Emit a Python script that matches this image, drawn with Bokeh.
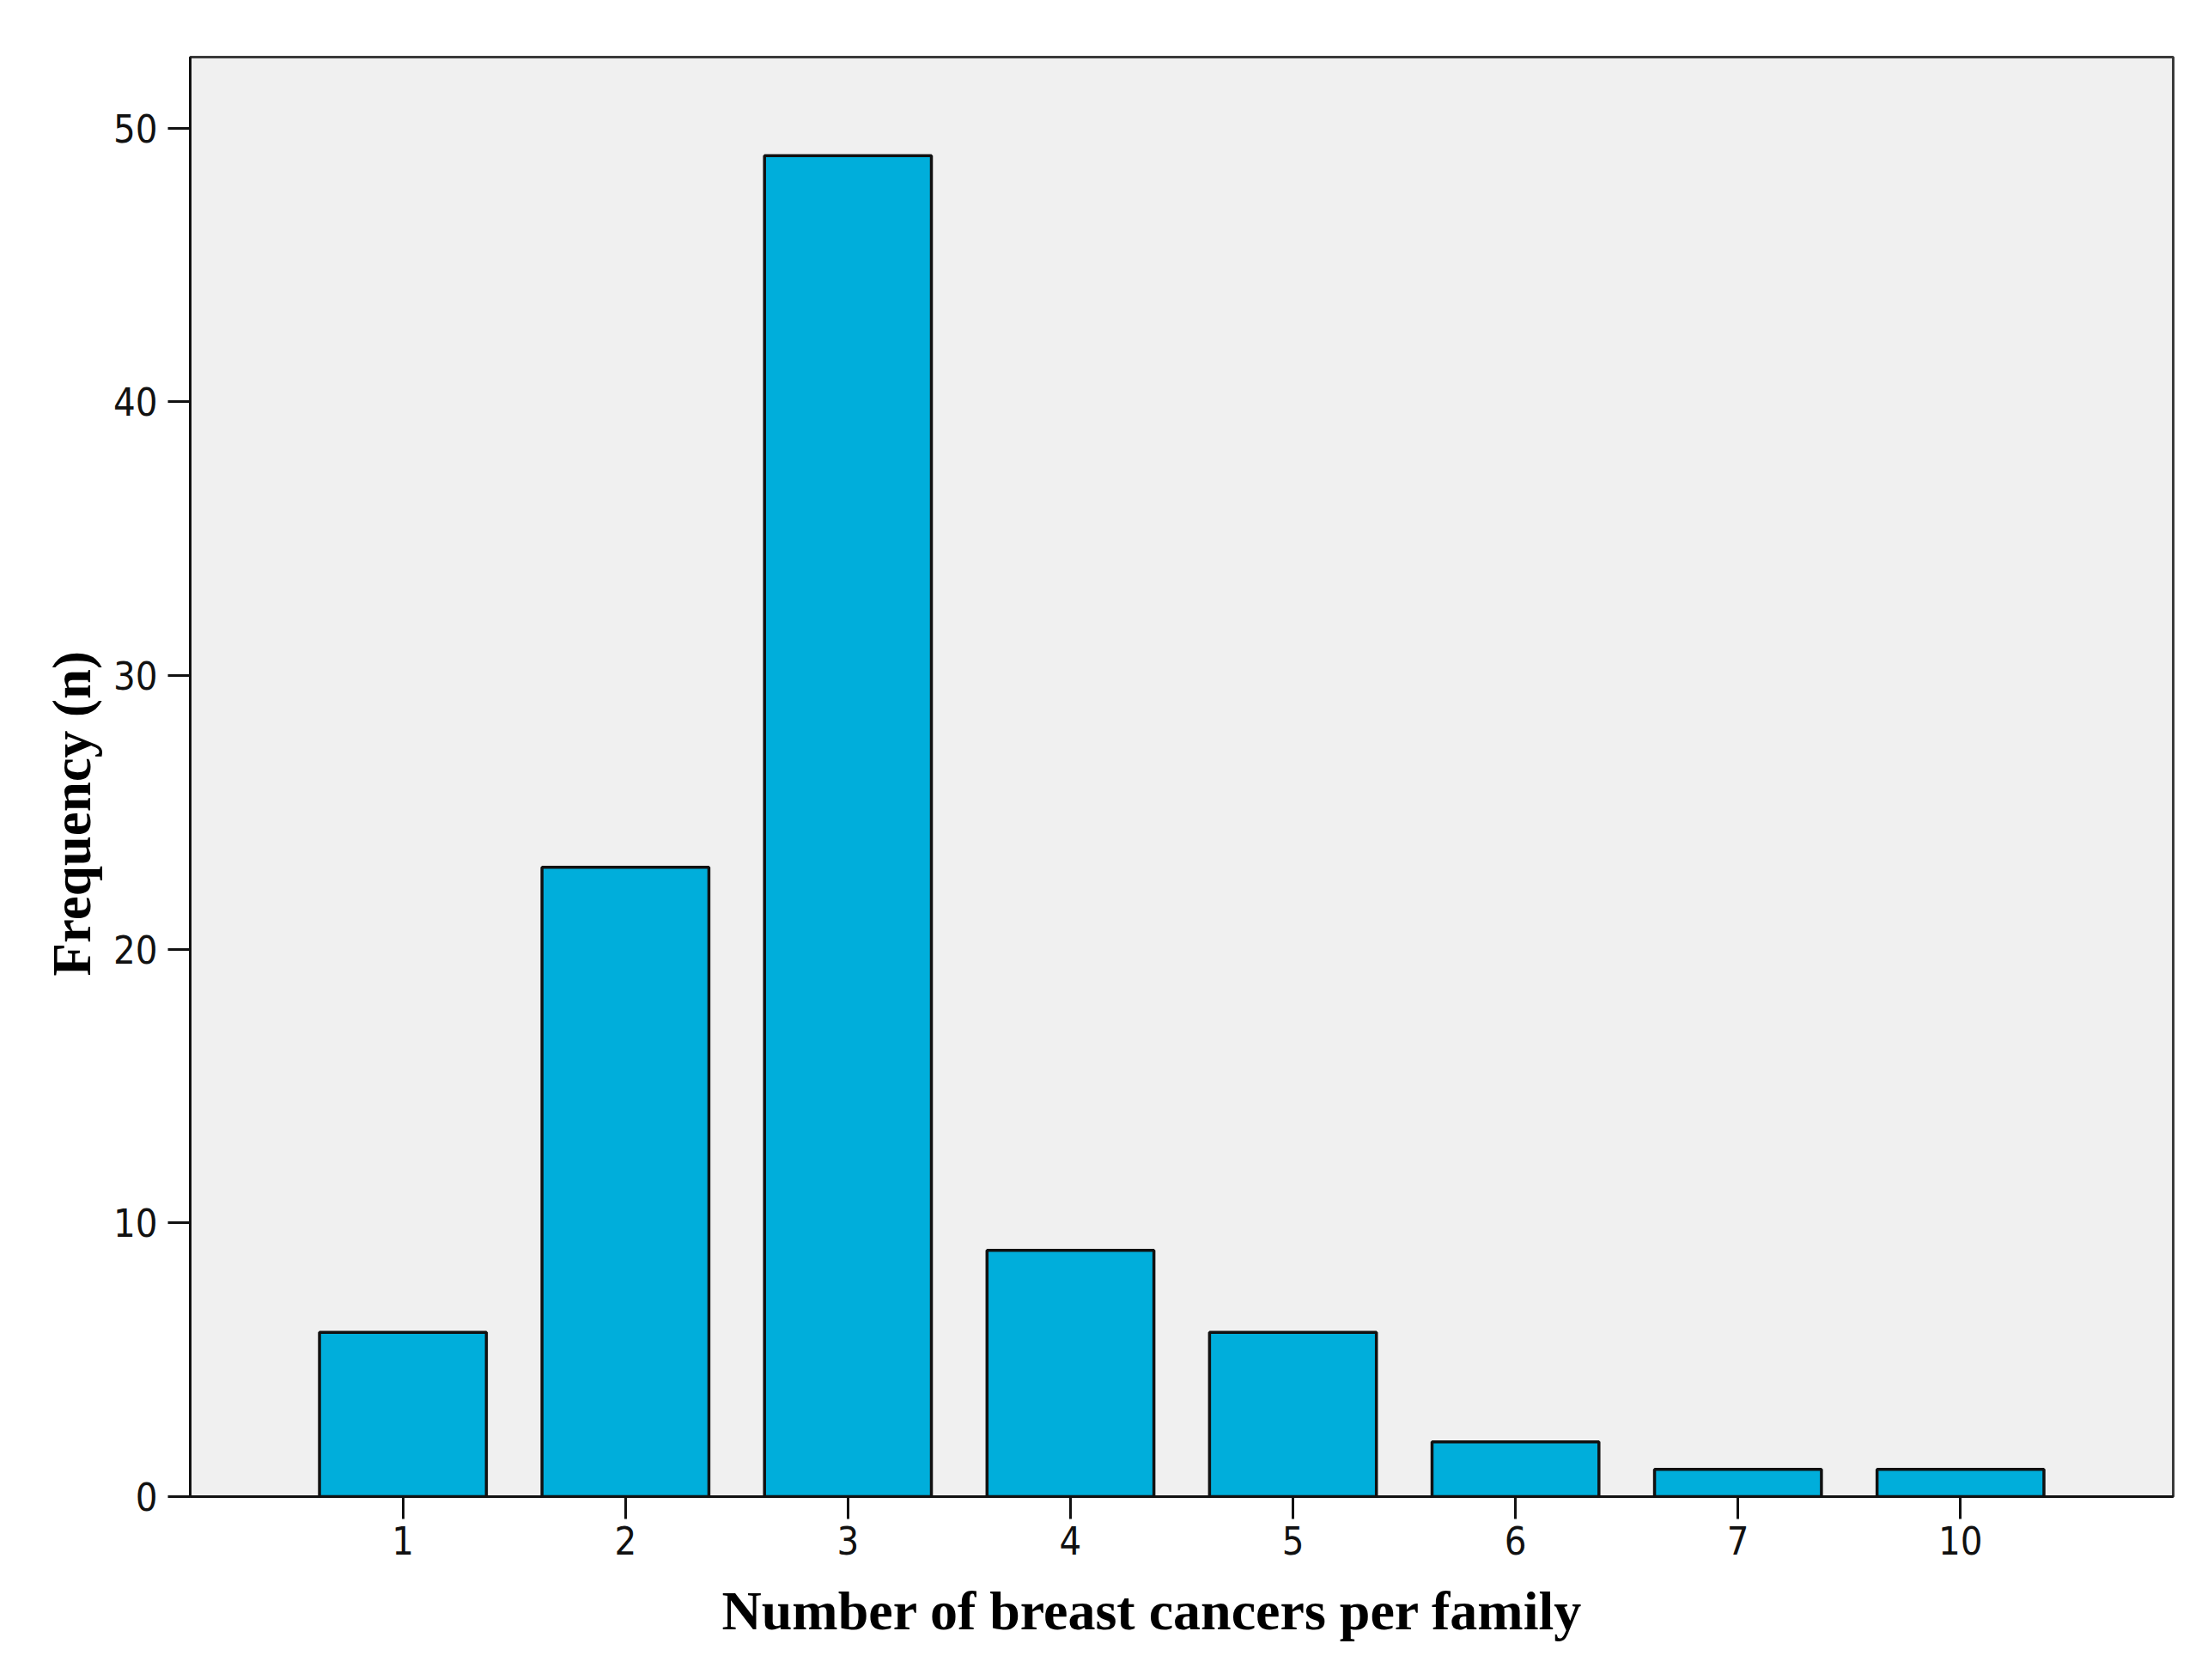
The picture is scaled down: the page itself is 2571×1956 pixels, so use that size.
from bokeh.plotting import figure
from bokeh.models import FactorRange, Range1d, FixedTicker, Title
from bokeh.embed import file_html
from bokeh.resources import INLINE

categories = ["1", "2", "3", "4", "5", "6", "7", "10"]
frequency = [6, 23, 49, 9, 6, 2, 1, 1]
y_ticks = [0, 10, 20, 30, 40, 50]
x_title = "Number of  breast cancers per family"
y_title = "Frequency (n)"

p = figure(
    width=2555, height=1935,
    x_range=FactorRange(*categories, range_padding=0.114),
    y_range=Range1d(0, 52.6),
    output_backend="svg", toolbar_location=None,
    min_border_left=221, min_border_top=66, min_border_right=25, min_border_bottom=192,
)
p.background_fill_color = "#F0F0F0"
p.border_fill_color = "white"
p.outline_line_color = "#3a3a3a"
p.outline_line_width = 3
p.xgrid.visible = False
p.ygrid.visible = False

p.vbar(x=categories, top=frequency, width=0.75,
       fill_color="#00AEDB", line_color="#111111", line_width=3.5)

tick_font = "Liberation Sans Narrow, DejaVu Sans Condensed, sans-serif"
for ax in (p.xaxis[0], p.yaxis[0]):
    ax.axis_line_color = "#111111"
    ax.axis_line_width = 3
    ax.major_tick_line_color = "#111111"
    ax.major_tick_line_width = 3
    ax.major_tick_out = 26
    ax.major_tick_in = 0
    ax.minor_tick_line_color = None
    ax.major_label_text_font = tick_font
    ax.major_label_text_font_size = "45px"
    ax.major_label_text_color = "#111111"

p.yaxis[0].ticker = FixedTicker(ticks=y_ticks)
p.yaxis[0].major_label_standoff = 12
p.xaxis[0].major_label_standoff = 8

title_style = dict(text_font="Liberation Serif", text_font_style="bold",
                   text_color="black")
p.add_layout(Title(text=x_title, align="left", offset=619, standoff=50,
                   text_font_size="64px", **title_style), "below")
p.add_layout(Title(text=y_title, align="left", offset=606, standoff=20,
                   text_font_size="63px", **title_style), "left")

open("out.html", "w").write(file_html(p, INLINE))
